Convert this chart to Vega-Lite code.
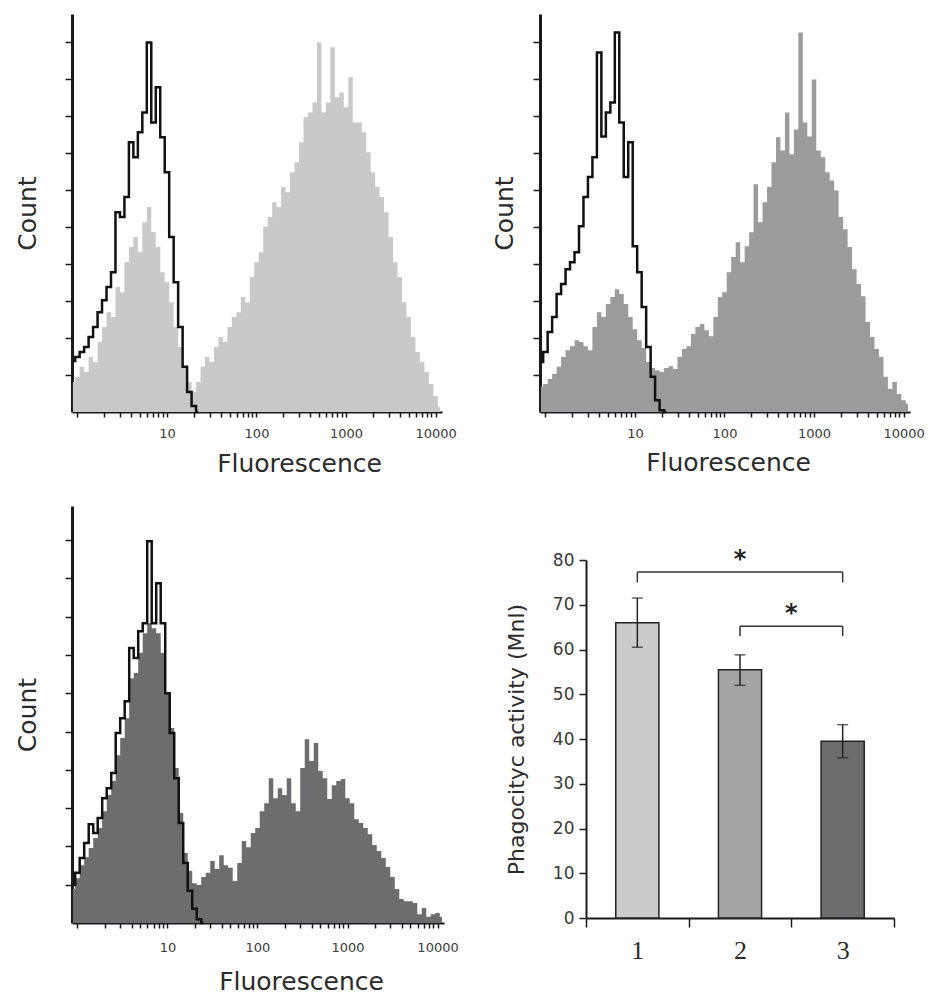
{
  "$schema": "https://vega.github.io/schema/vega-lite/v6.json",
  "padding": {"left": 15, "top": 14, "right": 5, "bottom": 2},
  "background": "white",
  "config": {
    "view": {"stroke": null},
    "axis": {
      "grid": false,
      "domainColor": "#1a1a1a",
      "tickColor": "#1a1a1a",
      "labelColor": "#3a3a3a",
      "titleColor": "#2b2b2b",
      "titleFontWeight": "normal",
      "labelFont": "DejaVu Sans",
      "titleFont": "DejaVu Sans"
    }
  },
  "datasets": {
    "hist1": [
      {"fluor": 0.891, "sample": 81, "control": 138},
      {"fluor": 1, "sample": 95, "control": 149},
      {"fluor": 1.122, "sample": 122, "control": 162},
      {"fluor": 1.259, "sample": 108, "control": 176},
      {"fluor": 1.413, "sample": 149, "control": 203},
      {"fluor": 1.585, "sample": 135, "control": 230},
      {"fluor": 1.778, "sample": 189, "control": 270},
      {"fluor": 1.995, "sample": 230, "control": 302},
      {"fluor": 2.239, "sample": 270, "control": 338},
      {"fluor": 2.512, "sample": 257, "control": 378},
      {"fluor": 2.818, "sample": 338, "control": 540},
      {"fluor": 3.162, "sample": 324, "control": 527},
      {"fluor": 3.548, "sample": 405, "control": 581},
      {"fluor": 3.981, "sample": 446, "control": 729},
      {"fluor": 4.467, "sample": 473, "control": 689},
      {"fluor": 5.012, "sample": 432, "control": 756},
      {"fluor": 5.623, "sample": 513, "control": 810},
      {"fluor": 6.31, "sample": 554, "control": 999},
      {"fluor": 7.079, "sample": 486, "control": 783},
      {"fluor": 7.943, "sample": 446, "control": 878},
      {"fluor": 8.913, "sample": 378, "control": 743},
      {"fluor": 10, "sample": 351, "control": 648},
      {"fluor": 11.22, "sample": 297, "control": 473},
      {"fluor": 12.59, "sample": 230, "control": 351},
      {"fluor": 14.13, "sample": 176, "control": 230},
      {"fluor": 15.85, "sample": 122, "control": 122},
      {"fluor": 17.78, "sample": 81, "control": 54},
      {"fluor": 19.95, "sample": 54, "control": 16},
      {"fluor": 22.39, "sample": 81, "control": 0},
      {"fluor": 25.12, "sample": 122},
      {"fluor": 28.18, "sample": 149},
      {"fluor": 31.62, "sample": 135},
      {"fluor": 35.48, "sample": 176},
      {"fluor": 39.81, "sample": 203},
      {"fluor": 44.67, "sample": 189},
      {"fluor": 50.12, "sample": 230},
      {"fluor": 56.23, "sample": 257},
      {"fluor": 63.1, "sample": 270},
      {"fluor": 70.79, "sample": 311},
      {"fluor": 79.43, "sample": 297},
      {"fluor": 89.13, "sample": 365},
      {"fluor": 100, "sample": 405},
      {"fluor": 112.2, "sample": 432},
      {"fluor": 125.9, "sample": 500},
      {"fluor": 141.3, "sample": 527},
      {"fluor": 158.5, "sample": 567},
      {"fluor": 177.8, "sample": 554},
      {"fluor": 199.5, "sample": 608},
      {"fluor": 223.9, "sample": 594},
      {"fluor": 251.2, "sample": 648},
      {"fluor": 281.8, "sample": 675},
      {"fluor": 316.2, "sample": 729},
      {"fluor": 354.8, "sample": 797},
      {"fluor": 398.1, "sample": 810},
      {"fluor": 446.7, "sample": 837},
      {"fluor": 501.2, "sample": 999},
      {"fluor": 562.3, "sample": 810},
      {"fluor": 631, "sample": 837},
      {"fluor": 707.9, "sample": 986},
      {"fluor": 794.3, "sample": 851},
      {"fluor": 891.3, "sample": 864},
      {"fluor": 1000, "sample": 824},
      {"fluor": 1122, "sample": 905},
      {"fluor": 1259, "sample": 783},
      {"fluor": 1413, "sample": 783},
      {"fluor": 1585, "sample": 756},
      {"fluor": 1778, "sample": 702},
      {"fluor": 1995, "sample": 648},
      {"fluor": 2239, "sample": 608},
      {"fluor": 2512, "sample": 581},
      {"fluor": 2818, "sample": 540},
      {"fluor": 3162, "sample": 473},
      {"fluor": 3548, "sample": 405},
      {"fluor": 3981, "sample": 365},
      {"fluor": 4467, "sample": 297},
      {"fluor": 5012, "sample": 257},
      {"fluor": 5623, "sample": 203},
      {"fluor": 6310, "sample": 162},
      {"fluor": 7079, "sample": 135},
      {"fluor": 7943, "sample": 108},
      {"fluor": 8913, "sample": 76},
      {"fluor": 10000, "sample": 43},
      {"fluor": 11220, "sample": 14}
    ],
    "hist2": [
      {"fluor": 0.891, "sample": 68, "control": 135},
      {"fluor": 1, "sample": 76, "control": 162},
      {"fluor": 1.122, "sample": 89, "control": 216},
      {"fluor": 1.259, "sample": 103, "control": 257},
      {"fluor": 1.413, "sample": 122, "control": 319},
      {"fluor": 1.585, "sample": 149, "control": 346},
      {"fluor": 1.778, "sample": 167, "control": 386},
      {"fluor": 1.995, "sample": 178, "control": 405},
      {"fluor": 2.239, "sample": 194, "control": 432},
      {"fluor": 2.512, "sample": 189, "control": 502},
      {"fluor": 2.818, "sample": 178, "control": 581},
      {"fluor": 3.162, "sample": 167, "control": 635},
      {"fluor": 3.548, "sample": 230, "control": 689},
      {"fluor": 3.981, "sample": 270, "control": 972},
      {"fluor": 4.467, "sample": 257, "control": 745},
      {"fluor": 5.012, "sample": 292, "control": 810},
      {"fluor": 5.623, "sample": 311, "control": 837},
      {"fluor": 6.31, "sample": 332, "control": 1026},
      {"fluor": 7.079, "sample": 319, "control": 783},
      {"fluor": 7.943, "sample": 292, "control": 635},
      {"fluor": 8.913, "sample": 257, "control": 729},
      {"fluor": 10, "sample": 224, "control": 448},
      {"fluor": 11.22, "sample": 194, "control": 378},
      {"fluor": 12.59, "sample": 173, "control": 284},
      {"fluor": 14.13, "sample": 135, "control": 176},
      {"fluor": 15.85, "sample": 119, "control": 95},
      {"fluor": 17.78, "sample": 113, "control": 32},
      {"fluor": 19.95, "sample": 108, "control": 5},
      {"fluor": 22.39, "sample": 119, "control": 0},
      {"fluor": 25.12, "sample": 124},
      {"fluor": 28.18, "sample": 116},
      {"fluor": 31.62, "sample": 149},
      {"fluor": 35.48, "sample": 170},
      {"fluor": 39.81, "sample": 178},
      {"fluor": 44.67, "sample": 211},
      {"fluor": 50.12, "sample": 230},
      {"fluor": 56.23, "sample": 238},
      {"fluor": 63.1, "sample": 221},
      {"fluor": 70.79, "sample": 205},
      {"fluor": 79.43, "sample": 257},
      {"fluor": 89.13, "sample": 311},
      {"fluor": 100, "sample": 324},
      {"fluor": 112.2, "sample": 378},
      {"fluor": 125.9, "sample": 419},
      {"fluor": 141.3, "sample": 459},
      {"fluor": 158.5, "sample": 405},
      {"fluor": 177.8, "sample": 448},
      {"fluor": 199.5, "sample": 486},
      {"fluor": 223.9, "sample": 616},
      {"fluor": 251.2, "sample": 513},
      {"fluor": 281.8, "sample": 567},
      {"fluor": 316.2, "sample": 608},
      {"fluor": 354.8, "sample": 675},
      {"fluor": 398.1, "sample": 743},
      {"fluor": 446.7, "sample": 707},
      {"fluor": 501.2, "sample": 810},
      {"fluor": 562.3, "sample": 697},
      {"fluor": 631, "sample": 764},
      {"fluor": 707.9, "sample": 1026},
      {"fluor": 794.3, "sample": 783},
      {"fluor": 891.3, "sample": 745},
      {"fluor": 1000, "sample": 899},
      {"fluor": 1122, "sample": 707},
      {"fluor": 1259, "sample": 689},
      {"fluor": 1413, "sample": 648},
      {"fluor": 1585, "sample": 626},
      {"fluor": 1778, "sample": 599},
      {"fluor": 1995, "sample": 527},
      {"fluor": 2239, "sample": 494},
      {"fluor": 2512, "sample": 446},
      {"fluor": 2818, "sample": 386},
      {"fluor": 3162, "sample": 346},
      {"fluor": 3548, "sample": 313},
      {"fluor": 3981, "sample": 243},
      {"fluor": 4467, "sample": 203},
      {"fluor": 5012, "sample": 170},
      {"fluor": 5623, "sample": 149},
      {"fluor": 6310, "sample": 95},
      {"fluor": 7079, "sample": 62},
      {"fluor": 7943, "sample": 81},
      {"fluor": 8913, "sample": 49},
      {"fluor": 10000, "sample": 32},
      {"fluor": 11220, "sample": 22}
    ],
    "hist3": [
      {"fluor": 0.891, "sample": 89, "control": 99},
      {"fluor": 1, "sample": 117, "control": 131},
      {"fluor": 1.122, "sample": 151, "control": 170},
      {"fluor": 1.259, "sample": 172, "control": 209},
      {"fluor": 1.413, "sample": 196, "control": 258},
      {"fluor": 1.585, "sample": 222, "control": 235},
      {"fluor": 1.778, "sample": 248, "control": 274},
      {"fluor": 1.995, "sample": 292, "control": 326},
      {"fluor": 2.239, "sample": 334, "control": 352},
      {"fluor": 2.512, "sample": 371, "control": 392},
      {"fluor": 2.818, "sample": 438, "control": 496},
      {"fluor": 3.162, "sample": 483, "control": 535},
      {"fluor": 3.548, "sample": 535, "control": 579},
      {"fluor": 3.981, "sample": 639, "control": 718},
      {"fluor": 4.467, "sample": 653, "control": 692},
      {"fluor": 5.012, "sample": 705, "control": 762},
      {"fluor": 5.623, "sample": 757, "control": 783},
      {"fluor": 6.31, "sample": 783, "control": 997},
      {"fluor": 7.079, "sample": 770, "control": 783},
      {"fluor": 7.943, "sample": 757, "control": 887},
      {"fluor": 8.913, "sample": 705, "control": 783},
      {"fluor": 10, "sample": 600, "control": 600},
      {"fluor": 11.22, "sample": 509, "control": 496},
      {"fluor": 12.59, "sample": 405, "control": 378},
      {"fluor": 14.13, "sample": 287, "control": 261},
      {"fluor": 15.85, "sample": 183, "control": 157},
      {"fluor": 17.78, "sample": 136, "control": 84},
      {"fluor": 19.95, "sample": 104, "control": 37},
      {"fluor": 22.39, "sample": 99, "control": 10},
      {"fluor": 25.12, "sample": 120, "control": 0},
      {"fluor": 28.18, "sample": 131},
      {"fluor": 31.62, "sample": 162},
      {"fluor": 35.48, "sample": 141},
      {"fluor": 39.81, "sample": 177},
      {"fluor": 44.67, "sample": 151},
      {"fluor": 50.12, "sample": 144},
      {"fluor": 56.23, "sample": 110},
      {"fluor": 63.1, "sample": 157},
      {"fluor": 70.79, "sample": 214},
      {"fluor": 79.43, "sample": 198},
      {"fluor": 89.13, "sample": 235},
      {"fluor": 100, "sample": 248},
      {"fluor": 112.2, "sample": 292},
      {"fluor": 125.9, "sample": 313},
      {"fluor": 141.3, "sample": 378},
      {"fluor": 158.5, "sample": 326},
      {"fluor": 177.8, "sample": 352},
      {"fluor": 199.5, "sample": 334},
      {"fluor": 223.9, "sample": 378},
      {"fluor": 251.2, "sample": 313},
      {"fluor": 281.8, "sample": 292},
      {"fluor": 316.2, "sample": 405},
      {"fluor": 354.8, "sample": 480},
      {"fluor": 398.1, "sample": 423},
      {"fluor": 446.7, "sample": 470},
      {"fluor": 501.2, "sample": 397},
      {"fluor": 562.3, "sample": 378},
      {"fluor": 631, "sample": 324},
      {"fluor": 707.9, "sample": 360},
      {"fluor": 794.3, "sample": 371},
      {"fluor": 891.3, "sample": 376},
      {"fluor": 1000, "sample": 326},
      {"fluor": 1122, "sample": 313},
      {"fluor": 1259, "sample": 271},
      {"fluor": 1413, "sample": 261},
      {"fluor": 1585, "sample": 248},
      {"fluor": 1778, "sample": 232},
      {"fluor": 1995, "sample": 204},
      {"fluor": 2239, "sample": 188},
      {"fluor": 2512, "sample": 170},
      {"fluor": 2818, "sample": 146},
      {"fluor": 3162, "sample": 120},
      {"fluor": 3548, "sample": 89},
      {"fluor": 3981, "sample": 63},
      {"fluor": 4467, "sample": 57},
      {"fluor": 5012, "sample": 57},
      {"fluor": 5623, "sample": 52},
      {"fluor": 6310, "sample": 23},
      {"fluor": 7079, "sample": 39},
      {"fluor": 7943, "sample": 16},
      {"fluor": 8913, "sample": 23},
      {"fluor": 10000, "sample": 26},
      {"fluor": 11220, "sample": 16}
    ],
    "bars": [
      {"group": "1", "mean": 66, "lo": 60.5, "hi": 71.5},
      {"group": "2", "mean": 55.5, "lo": 52, "hi": 58.8},
      {"group": "3", "mean": 39.5, "lo": 35.8, "hi": 43.2}
    ],
    "brackets": [
      {"from": 1, "to": 3, "level": 77.3, "foot": 75},
      {"from": 2, "to": 3, "level": 65.2, "foot": 63}
    ],
    "stars": [
      {"pos": 2, "level": 81.5, "mark": "*"},
      {"pos": 2.5, "level": 69.5, "mark": "*"}
    ]
  },
  "columns": 2,
  "bounds": "flush",
  "align": "all",
  "spacing": {"row": 75, "column": 96},
  "concat": [
    {
      "width": 372,
      "height": 398,
      "data": {"name": "hist1"},
      "encoding": {
        "x": {
          "field": "fluor",
          "type": "quantitative",
          "scale": {"type": "log", "domain": [0.87, 11800], "nice": false, "range": [0, 370]},
          "axis": {
            "values": [1, 2, 3, 4, 5, 6, 7, 8, 9, 10, 20, 30, 40, 50, 60, 70, 80, 90, 100, 200, 300, 400, 500, 600, 700, 800, 900, 1000, 2000, 3000, 4000, 5000, 6000, 7000, 8000, 9000, 10000],
            "labelExpr": "datum.value == 10 || datum.value == 100 || datum.value == 1000 || datum.value == 10000 ? datum.value + '' : ''",
            "labelOverlap": false,
            "labelFlush": false,
            "labelFontSize": 13,
            "labelPadding": 10,
            "tickSize": 5,
            "tickWidth": 1.5,
            "domainWidth": 2,
            "title": "Fluorescence",
            "titleFontSize": 25,
            "titlePadding": 11,
            "titleX": 227,
            "titleAlign": "center"
          }
        }
      },
      "layer": [
        {
          "mark": {"type": "area", "interpolate": "step", "color": "#c9c9c9"},
          "encoding": {
            "y": {
              "field": "sample",
              "type": "quantitative",
              "title": "Count",
              "scale": {"domain": [0, 1076], "nice": false},
              "axis": {"values": [100, 200, 300, 400, 500, 600, 700, 800, 900, 1000], "labels": false, "tickSize": 7, "tickWidth": 1.5, "domainWidth": 3, "titleFontSize": 25, "titlePadding": 24}
            }
          }
        },
        {
          "transform": [{"filter": "isValid(datum.control)"}],
          "mark": {"type": "line", "interpolate": "step", "color": "#111111", "strokeWidth": 2.5},
          "encoding": {"y": {"field": "control", "type": "quantitative", "title": "Count"}}
        }
      ]
    },
    {
      "width": 370,
      "height": 398,
      "data": {"name": "hist2"},
      "encoding": {
        "x": {
          "field": "fluor",
          "type": "quantitative",
          "scale": {"type": "log", "domain": [0.87, 11800], "nice": false},
          "axis": {
            "values": [1, 2, 3, 4, 5, 6, 7, 8, 9, 10, 20, 30, 40, 50, 60, 70, 80, 90, 100, 200, 300, 400, 500, 600, 700, 800, 900, 1000, 2000, 3000, 4000, 5000, 6000, 7000, 8000, 9000, 10000],
            "labelExpr": "datum.value == 10 || datum.value == 100 || datum.value == 1000 || datum.value == 10000 ? datum.value + '' : ''",
            "labelOverlap": false,
            "labelFlush": false,
            "labelFontSize": 13,
            "labelPadding": 10,
            "tickSize": 5,
            "tickWidth": 1.5,
            "domainWidth": 2,
            "title": "Fluorescence",
            "titleFontSize": 25,
            "titlePadding": 10,
            "titleX": 188,
            "titleAlign": "center"
          }
        }
      },
      "layer": [
        {
          "mark": {"type": "area", "interpolate": "step", "color": "#9b9b9d"},
          "encoding": {
            "y": {
              "field": "sample",
              "type": "quantitative",
              "title": "Count",
              "scale": {"domain": [0, 1076], "nice": false},
              "axis": {"values": [100, 200, 300, 400, 500, 600, 700, 800, 900, 1000], "labels": false, "tickSize": 7, "tickWidth": 1.5, "domainWidth": 3, "titleFontSize": 25, "titlePadding": 15}
            }
          }
        },
        {
          "transform": [{"filter": "isValid(datum.control)"}],
          "mark": {"type": "line", "interpolate": "step", "color": "#111111", "strokeWidth": 2.5},
          "encoding": {"y": {"field": "control", "type": "quantitative", "title": "Count"}}
        }
      ]
    },
    {
      "width": 372,
      "height": 417,
      "data": {"name": "hist3"},
      "encoding": {
        "x": {
          "field": "fluor",
          "type": "quantitative",
          "scale": {"type": "log", "domain": [0.87, 11800], "nice": false},
          "axis": {
            "values": [1, 2, 3, 4, 5, 6, 7, 8, 9, 10, 20, 30, 40, 50, 60, 70, 80, 90, 100, 200, 300, 400, 500, 600, 700, 800, 900, 1000, 2000, 3000, 4000, 5000, 6000, 7000, 8000, 9000, 10000],
            "labelExpr": "datum.value == 10 || datum.value == 100 || datum.value == 1000 || datum.value == 10000 ? datum.value + '' : ''",
            "labelOverlap": false,
            "labelFlush": false,
            "labelFontSize": 13,
            "labelPadding": 13,
            "tickSize": 5,
            "tickWidth": 1.5,
            "domainWidth": 2,
            "title": "Fluorescence",
            "titleFontSize": 25,
            "titlePadding": 15,
            "titleX": 229,
            "titleAlign": "center"
          }
        }
      },
      "layer": [
        {
          "mark": {"type": "area", "interpolate": "step", "color": "#6d6d6f"},
          "encoding": {
            "y": {
              "field": "sample",
              "type": "quantitative",
              "title": "Count",
              "scale": {"domain": [0, 1089], "nice": false},
              "axis": {"values": [100, 200, 300, 400, 500, 600, 700, 800, 900, 1000], "labels": false, "tickSize": 7, "tickWidth": 1.5, "domainWidth": 3, "titleFontSize": 25, "titlePadding": 24}
            }
          }
        },
        {
          "transform": [{"filter": "isValid(datum.control)"}],
          "mark": {"type": "line", "interpolate": "step", "color": "#111111", "strokeWidth": 2.5},
          "encoding": {"y": {"field": "control", "type": "quantitative", "title": "Count"}}
        }
      ]
    },
    {
      "width": 354,
      "height": 412,
      "resolve": {"scale": {"x": "independent"}},
      "layer": [
        {
          "data": {"name": "bars"},
          "layer": [
            {
              "mark": {"type": "bar", "width": {"band": 0.42}, "stroke": "#222222", "strokeWidth": 1.5},
              "encoding": {
                "x": {
                  "field": "group",
                  "type": "nominal",
                  "scale": {"paddingInner": 0, "paddingOuter": 0, "range": [46, 354]},
                  "axis": {"title": null, "labelAngle": 0, "tickBand": "extent", "tickSize": 9, "tickWidth": 1.5, "domainWidth": 2, "labelFont": "Liberation Serif", "labelFontSize": 26, "labelPadding": 10, "labelColor": "#2b2b2b"}
                },
                "y": {
                  "field": "mean",
                  "type": "quantitative",
                  "scale": {"domain": [0, 80], "nice": false, "range": [412, 54]},
                  "axis": {"values": [0, 10, 20, 30, 40, 50, 60, 70, 80], "offset": -46, "title": "Phagocityc activity (Mnl)", "titleFontSize": 22, "titlePadding": 24, "labelFontSize": 17, "labelPadding": 5, "tickSize": 7, "tickWidth": 1.5, "domainWidth": 2}
                },
                "color": {"field": "group", "type": "nominal", "scale": {"range": ["#cbcbcb", "#a4a4a4", "#6c6c6e"]}, "legend": null}
              }
            },
            {
              "mark": {"type": "rule", "color": "#222222", "strokeWidth": 1.5},
              "encoding": {
                "x": {"field": "group", "type": "nominal"},
                "y": {"field": "lo", "type": "quantitative"},
                "y2": {"field": "hi"}
              }
            },
            {
              "mark": {"type": "tick", "color": "#222222", "thickness": 1.5, "size": 11},
              "encoding": {
                "x": {"field": "group", "type": "nominal"},
                "y": {"field": "lo", "type": "quantitative"}
              }
            },
            {
              "mark": {"type": "tick", "color": "#222222", "thickness": 1.5, "size": 11},
              "encoding": {
                "x": {"field": "group", "type": "nominal"},
                "y": {"field": "hi", "type": "quantitative"}
              }
            }
          ]
        },
        {
          "layer": [
            {
              "data": {"name": "brackets"},
              "mark": {"type": "rule", "color": "#333333", "strokeWidth": 1.5},
              "encoding": {
                "x": {"field": "from", "type": "quantitative", "scale": {"domain": [0.5, 3.5], "nice": false, "zero": false, "range": [46, 354]}, "axis": null},
                "x2": {"field": "to"},
                "y": {"field": "level", "type": "quantitative"}
              }
            },
            {
              "data": {"name": "brackets"},
              "mark": {"type": "rule", "color": "#333333", "strokeWidth": 1.5},
              "encoding": {
                "x": {"field": "from", "type": "quantitative"},
                "y": {"field": "foot", "type": "quantitative"},
                "y2": {"field": "level"}
              }
            },
            {
              "data": {"name": "brackets"},
              "mark": {"type": "rule", "color": "#333333", "strokeWidth": 1.5},
              "encoding": {
                "x": {"field": "to", "type": "quantitative"},
                "y": {"field": "foot", "type": "quantitative"},
                "y2": {"field": "level"}
              }
            },
            {
              "data": {"name": "stars"},
              "mark": {"type": "text", "font": "DejaVu Sans", "fontSize": 24, "fontWeight": "bold", "color": "#222222", "baseline": "middle", "dy": 7},
              "encoding": {
                "x": {"field": "pos", "type": "quantitative"},
                "y": {"field": "level", "type": "quantitative"},
                "text": {"field": "mark"}
              }
            }
          ]
        }
      ]
    }
  ]
}
